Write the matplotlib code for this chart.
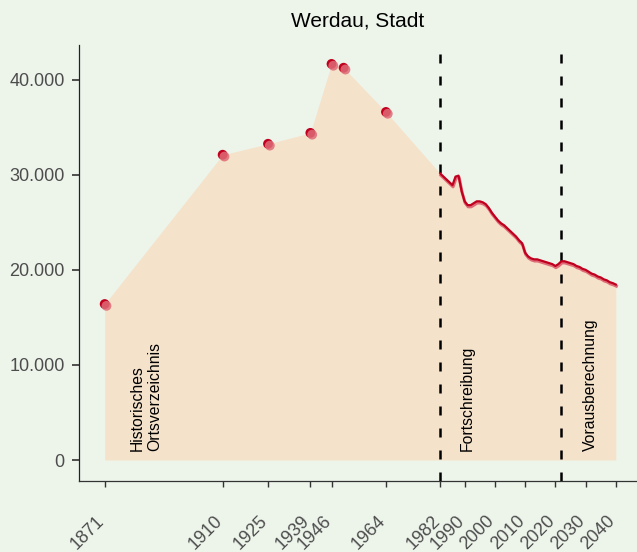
import numpy as np
import matplotlib
matplotlib.use("Agg")
import matplotlib.pyplot as plt
import matplotlib.patheffects as pe
import matplotlib.transforms as mtransforms

# historische Einwohnerzahlen (Ortsverzeichnis)
hist_years = [1871, 1910, 1925, 1939, 1946, 1950, 1964]
hist_pop = [16400, 32100, 33250, 34400, 41650, 41250, 36600]

# Fortschreibung 1982-2021
fort_years = list(range(1982, 2022))
fort_pop = [30100, 29800, 29500, 29200, 28900, 29800, 29900, 28300, 27200, 26800,
            26800, 27000, 27200, 27200, 27100, 26900, 26500, 26000, 25600, 25200,
            24900, 24700, 24400, 24100, 23800, 23500, 23100, 22800, 21800, 21400,
            21200, 21100, 21100, 21000, 20900, 20800, 20700, 20600, 20400, 20600]

# Vorausberechnung 2022-2040
proj_years = list(range(2022, 2041))
proj_pop = [20900, 20900, 20800, 20700, 20600, 20400, 20300, 20100, 20000, 19800,
            19600, 19500, 19300, 19200, 19000, 18900, 18700, 18600, 18450]

tick_years = [1871, 1910, 1925, 1939, 1946, 1964, 1982, 1990, 2000, 2010, 2020, 2030, 2040]
y_ticks = [0, 10000, 20000, 30000, 40000]
y_labels = ["0", "10.000", "20.000", "30.000", "40.000"]
breaks = [1982, 2022]

bg = "#EDF5EB"
fill = "#F5E2CB"
red = "#C0001E"
shadow = "#DE6B77"

plt.rcParams['font.family'] = ['Liberation Sans', 'DejaVu Sans']

fig = plt.figure(figsize=(6.37, 5.52), dpi=100, facecolor=bg)
ax = fig.add_axes([0.1235, 0.1295, 0.8765, 0.789])
ax.set_facecolor(bg)

line_years = fort_years + proj_years
line_pop = fort_pop + proj_pop
all_years = hist_years + line_years
all_pop = hist_pop + line_pop

ax.fill_between(all_years, 0, all_pop, color=fill, lw=0, zorder=1)

for b in breaks:
    ax.axvline(b, color="black", lw=1.8, linestyle=(0, (3.6, 5.2)), zorder=2)

ax.plot(line_years, line_pop, color=red, lw=1.6, zorder=3,
        path_effects=[pe.SimpleLineShadow(offset=(0.4, -1.2), shadow_color=shadow, alpha=1, linewidth=2.2),
                      pe.Normal()])

ax.scatter(hist_years, hist_pop, s=50, color=red, lw=0, zorder=4,
           path_effects=[pe.Normal(),
                         pe.SimplePatchShadow(offset=(1.3, -1.3), shadow_rgbFace=shadow, alpha=0.85)])

# Beschriftungen der Abschnitte
ax.text(1884.8, 1000, "Historisches\nOrtsverzeichnis", rotation=90, ha="center", va="bottom",
        multialignment="left", fontsize=11.3)
ax.text(1990.9, 1000, "Fortschreibung", rotation=90, ha="center", va="bottom", fontsize=11.3)
ax.text(2031.6, 1000, "Vorausberechnung", rotation=90, ha="center", va="bottom", fontsize=11.3)

ax.set_xlim(1862.4, 2047)
ax.set_ylim(-2156, 43640)

ax.set_xticks(tick_years)
ax.set_xticklabels([str(t) for t in tick_years], rotation=45, ha="right", va="top")
ax.set_yticks(y_ticks)
ax.set_yticklabels(y_labels)

ax.tick_params(axis="x", length=4, width=1, color="#333333", labelcolor="#4D4D4D",
               labelsize=13, pad=19)
ax.tick_params(axis="y", length=5, width=1.2, color="#333333", labelcolor="#4D4D4D",
               labelsize=13, pad=5)

# Beschriftung etwas nach rechts, wie im Original
shift = mtransforms.ScaledTranslation(3 / 100, 0, fig.dpi_scale_trans)
for lab in ax.get_xticklabels():
    lab.set_transform(lab.get_transform() + shift)

ax.spines["top"].set_visible(False)
ax.spines["right"].set_visible(False)
ax.spines["left"].set_color("#222222")
ax.spines["bottom"].set_color("#333333")
ax.spines["left"].set_linewidth(0.9)
ax.spines["bottom"].set_linewidth(0.9)

ax.set_title("Werdau, Stadt", fontsize=15, pad=13)

fig.savefig("out.png", dpi=100, facecolor=bg)
